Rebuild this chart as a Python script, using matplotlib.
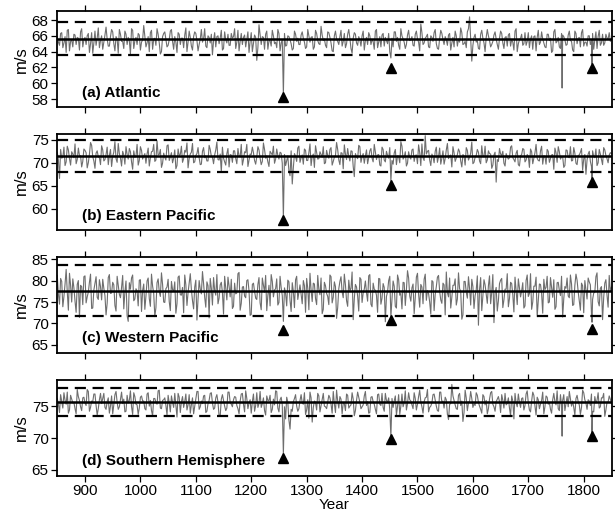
import numpy as np
import matplotlib
matplotlib.use('Agg')
import matplotlib.pyplot as plt

plt.rcParams['font.family'] = ['Liberation Sans', 'DejaVu Sans']

# series read every 2 years: values on 850, 854, ... and on 852, 856, ...
years = np.arange(850, 1851, 4)
mid_years = np.arange(852, 1849, 4)

atlantic = [
    65.9, 64.8, 66.4, 65.1, 63.9, 66.8, 65.3, 64.6, 66.1, 65.8,
    64.2, 66.9, 65.5, 64.9, 66.3, 65.0, 63.8, 66.6, 65.7, 64.5,
    66.0, 65.2, 67.1, 64.7, 65.9, 66.5, 64.1, 65.6, 66.8, 65.3,
    64.4, 66.2, 65.8, 63.7, 66.7, 65.4, 64.9, 66.1, 65.2, 67.3,
    64.6, 65.9, 66.4, 64.3, 65.7, 66.9, 65.1, 64.0, 66.3, 65.5,
    64.8, 66.6, 65.3, 65.9, 63.9, 66.2, 65.7, 64.5, 67.0, 65.2,
    65.8, 64.2, 66.5, 65.4, 64.9, 66.8, 65.6, 64.7, 66.0, 65.1,
    63.6, 66.4, 65.9, 65.0, 66.7, 64.4, 65.5, 66.2, 64.8, 65.7,
    66.9, 65.2, 64.1, 66.3, 65.8, 64.6, 66.5, 65.3, 64.0, 66.1,
    62.9, 67.4, 64.9, 65.8, 66.2, 64.3, 65.4, 66.7, 65.0, 64.5,
    66.3, 65.1, 58.6, 64.7, 66.0, 65.5, 64.2, 66.6, 65.3, 64.9,
    66.1, 65.7, 64.4, 66.8, 65.2, 65.9, 64.6, 66.3, 65.0, 67.2,
    65.4, 64.8, 66.5, 65.8, 64.1, 66.0, 65.6, 64.9, 66.7, 65.3,
    64.5, 66.2, 65.7, 63.8, 66.4, 65.1, 65.9, 64.7, 66.6, 65.4,
    64.9, 66.0, 65.5, 64.3, 66.8, 65.2, 64.6, 66.3, 65.8, 65.0,
    64.0, 65.7, 66.5, 65.3, 64.8, 66.9, 65.6, 64.4, 66.1, 65.4,
    65.9, 64.7, 66.6, 65.2, 67.5, 64.9, 65.7, 66.2, 64.5, 65.8,
    66.4, 65.0, 64.3, 66.7, 65.5, 65.9, 64.8, 66.3, 65.1, 64.6,
    66.0, 65.6, 67.0, 64.9, 65.3, 66.5, 68.4, 62.8, 65.8, 65.2,
    64.4, 66.2, 65.7, 64.0, 66.8, 65.4, 64.9, 66.1, 65.6, 64.3,
    66.6, 65.1, 65.8, 64.7, 66.3, 65.5, 64.2, 66.9, 65.0, 65.7,
    64.8, 66.4, 65.3, 64.5, 66.0, 65.9, 64.1, 66.7, 65.2, 65.6,
    64.6, 66.2, 65.4, 63.9, 66.5, 65.1, 65.8, 64.4, 66.1, 65.5,
    64.9, 66.6, 65.3, 64.0, 66.3, 65.7, 64.6, 66.8, 65.2, 64.7,
    66.0, 65.4, 64.3, 66.5, 65.9, 64.8, 66.2, 65.1, 65.7, 66.4,
    65.5,
]
atlantic_mid = [
    65.2, 66.3, 64.5, 65.9, 66.7, 64.1, 65.5, 66.2, 64.9, 65.7,
    66.5, 64.6, 65.8, 66.0, 63.9, 66.4, 65.1, 64.8, 67.0, 65.4,
    64.3, 66.1, 65.6, 64.7, 66.8, 65.0, 65.9, 63.8, 66.2, 65.3,
    66.6, 64.9, 65.4, 66.9, 64.4, 65.8, 66.3, 64.2, 65.5, 66.0,
    65.1, 64.0, 66.7, 65.6, 64.8, 66.2, 63.7, 65.9, 66.5, 64.6,
    65.5, 66.8, 64.3, 65.2, 66.4, 64.9, 65.7, 66.1, 64.0, 66.6,
    64.7, 65.9, 66.3, 64.1, 65.6, 65.2, 66.9, 64.5, 65.8, 66.2,
    65.4, 64.6, 66.0, 65.7, 64.2, 66.5, 65.1, 64.8, 66.3, 65.9,
    64.4, 66.7, 65.3, 64.9, 66.1, 65.6, 63.9, 66.4, 65.0, 65.8,
    64.5, 66.2, 65.9, 64.3, 66.6, 65.4, 64.7, 66.0, 65.2, 66.8,
    64.1, 65.5, 66.3, 64.8, 65.9, 65.0, 64.4, 66.2, 65.7, 64.9,
    66.5, 65.2, 64.6, 66.0, 65.8, 64.3, 66.7, 65.4, 64.9, 66.1,
    65.6, 64.5, 66.4, 65.1, 64.0, 66.6, 65.3, 65.9, 64.7, 66.3,
    65.0, 66.8, 64.4, 65.7, 66.2, 64.8, 65.5, 66.0, 64.2, 65.8,
    66.4, 64.9, 65.3, 66.6, 64.5, 65.9, 66.1, 64.7, 65.4, 66.3,
    65.0, 64.6, 66.5, 65.8, 64.3, 66.0, 65.2, 64.9, 66.7, 65.5,
    64.8, 66.2, 65.6, 64.1, 66.4, 65.1, 65.9, 64.6, 66.0, 65.3,
    66.8, 64.4, 65.7, 66.3, 64.9, 65.5, 66.1, 64.2, 65.8, 66.6,
    64.7, 65.2, 66.4, 65.0, 64.5, 66.9, 65.6, 64.8, 66.2, 65.4,
    64.3, 66.7, 65.1, 65.8, 66.0, 64.6, 65.3, 66.5, 64.9, 65.7,
    66.3, 64.4, 65.9, 66.1, 64.7, 65.2, 66.6, 64.0, 65.5, 66.2,
    65.0, 64.8, 66.4, 65.6, 64.3, 66.0, 65.8, 64.9, 66.5, 65.1,
    64.5, 66.2, 65.7, 64.1, 66.8, 65.3, 64.6, 66.3, 65.9, 64.8,
    66.1, 65.4, 64.2, 66.6, 65.0, 65.8, 66.4, 64.7, 65.2, 66.0,
    64.9, 66.3, 65.5, 64.4, 66.7, 65.1, 64.8, 66.2, 65.6, 65.3,
]

east_pacific = [
    72.3, 66.6, 71.0, 73.4, 70.2, 72.8, 69.5, 71.9, 74.1, 70.7,
    71.6, 69.1, 73.0, 72.2, 70.0, 74.4, 71.3, 68.8, 72.6, 71.1,
    73.7, 70.4, 71.8, 69.6, 72.9, 71.4, 74.6, 70.1, 72.0, 69.3,
    71.7, 73.5, 70.8, 72.4, 68.6, 71.2, 74.0, 70.5, 72.7, 71.5,
    69.9, 73.2, 71.0, 72.5, 70.3, 74.8, 71.8, 69.0, 72.1, 70.6,
    73.9, 71.3, 70.0, 72.8, 69.4, 71.6, 73.6, 70.9, 72.3, 68.9,
    71.9, 74.2, 70.2, 72.0, 71.1, 69.7, 73.3, 71.5, 70.4, 72.9,
    71.2, 71.7, 74.5, 70.6, 68.0, 71.0, 69.5, 73.1, 71.8, 70.1,
    72.6, 69.8, 71.4, 74.0, 70.7, 72.2, 69.2, 71.9, 73.4, 70.5,
    71.3, 72.8, 69.6, 74.3, 71.0, 70.2, 72.5, 71.7, 69.9, 73.0,
    70.8, 72.1, 58.0, 69.4, 71.5, 67.2, 65.4, 72.0, 70.3, 73.6,
    71.1, 69.7, 72.7, 70.5, 74.1, 71.4, 69.0, 72.3, 70.9, 71.8,
    73.5, 70.0, 71.6, 72.9, 69.5, 71.2, 74.4, 70.6, 72.2, 68.7,
    71.9, 73.1, 70.4, 72.5, 67.0, 71.3, 73.8, 70.1, 72.0, 71.5,
    69.8, 72.6, 71.0, 74.0, 70.7, 71.8, 69.3, 72.9, 70.2, 71.6,
    73.3, 70.5, 72.1, 69.6, 71.4, 74.6, 70.8, 72.4, 69.9, 71.2,
    72.8, 70.3, 71.7, 73.9, 69.4, 71.1, 75.9, 72.5, 70.6, 71.9,
    70.0, 73.4, 71.3, 69.7, 72.6, 70.9, 74.2, 71.5, 69.1, 72.2,
    71.0, 73.0, 70.4, 71.8, 69.5, 72.7, 71.2, 74.5, 70.1, 71.6,
    72.3, 69.8, 71.4, 73.6, 70.6, 72.0, 68.8, 71.7, 65.8, 70.3,
    71.9, 72.5, 69.3, 71.3, 71.1, 73.7, 70.7, 72.1, 69.6, 71.5,
    73.1, 70.2, 71.8, 69.0, 72.4, 71.0, 74.0, 70.5, 72.6, 69.7,
    71.4, 72.9, 70.1, 71.7, 68.6, 72.2, 73.5, 70.8, 71.3, 69.4,
    72.7, 71.1, 70.4, 73.3, 69.9, 71.6, 72.3, 68.4, 71.8, 70.6,
    72.5, 69.2, 71.4, 73.0, 70.0, 71.9, 69.6, 72.8, 70.9, 71.7,
    72.0,
]
east_pacific_mid = [
    70.6, 72.9, 71.2, 69.4, 73.6, 70.9, 72.4, 71.1, 69.8, 73.2,
    71.5, 70.3, 72.7, 68.9, 71.9, 73.8, 70.4, 72.1, 71.3, 69.6,
    72.8, 70.7, 73.4, 71.6, 69.2, 72.3, 70.9, 74.2, 71.0, 72.5,
    69.7, 71.8, 73.1, 70.2, 72.6, 71.4, 69.5, 73.5, 70.8, 72.0,
    71.9, 69.3, 72.4, 74.0, 70.6, 71.7, 72.9, 69.9, 71.2, 73.7,
    70.5, 72.2, 71.0, 68.7, 73.0, 71.8, 70.1, 72.7, 74.3, 70.9,
    72.3, 70.0, 71.6, 73.3, 69.6, 72.5, 71.1, 70.4, 73.8, 71.4,
    69.8, 72.8, 70.7, 71.9, 73.4, 70.2, 72.0, 69.1, 71.7, 72.6,
    70.9, 73.1, 71.3, 69.5, 72.4, 74.0, 70.6, 71.8, 72.2, 69.7,
    73.5, 71.0, 70.3, 72.9, 71.5, 69.2, 72.1, 73.6, 70.8, 71.6,
    72.3, 69.9, 71.8, 70.4, 68.2, 72.6, 69.0, 71.4, 73.2, 70.1,
    71.7, 73.0, 70.5, 72.2, 69.4, 71.9, 73.7, 70.8, 72.4, 71.2,
    69.8, 72.7, 71.0, 73.3, 70.3, 71.6, 72.9, 69.6, 72.1, 73.9,
    70.7, 71.4, 72.6, 69.2, 72.0, 70.9, 73.5, 71.3, 69.9, 72.8,
    71.1, 73.1, 70.2, 72.3, 71.7, 69.5, 73.4, 70.6, 72.5, 71.0,
    72.0, 69.7, 72.9, 71.5, 70.0, 73.6, 71.2, 69.3, 72.4, 70.8,
    73.0, 71.6, 69.8, 72.2, 74.1, 70.5, 71.9, 72.7, 69.4, 71.3,
    72.5, 70.1, 73.2, 71.0, 69.7, 72.8, 70.9, 71.7, 73.5, 70.3,
    71.8, 72.4, 69.1, 71.5, 73.3, 70.6, 72.1, 69.8, 71.2, 72.9,
    70.4, 73.7, 71.3, 70.0, 72.6, 71.9, 69.5, 72.3, 70.7, 73.1,
    71.6, 69.9, 72.0, 70.8, 73.4, 71.1, 70.2, 72.7, 69.3, 71.8,
    72.9, 70.6, 71.4, 73.0, 69.8, 72.2, 71.0, 70.4, 73.6, 71.5,
    69.7, 72.5, 70.9, 71.8, 73.2, 70.1, 72.4, 71.3, 69.0, 72.8,
    71.2, 73.5, 70.5, 72.1, 69.6, 71.7, 73.1, 70.8, 67.5, 71.9,
    70.3, 72.6, 71.1, 69.4, 72.9, 70.7, 73.3, 71.6, 70.0, 72.2,
]

west_pacific = [
    81.2, 74.5, 79.8, 76.3, 82.6, 73.1, 78.9, 80.4, 75.2, 79.1,
    71.4, 78.6, 80.9, 74.8, 77.3, 81.5, 73.6, 79.4, 76.1, 80.2,
    75.5, 78.2, 72.0, 80.7, 77.0, 79.6, 74.2, 81.0, 76.8, 78.4,
    73.4, 79.9, 70.5, 78.0, 81.3, 75.7, 77.6, 80.1, 72.8, 79.2,
    76.4, 80.6, 74.0, 78.7, 71.6, 79.5, 77.4, 81.8, 75.0, 78.1,
    80.3, 73.0, 77.9, 79.7, 74.6, 81.1, 76.6, 72.5, 79.0, 77.2,
    81.6, 75.3, 78.5, 70.8, 80.0, 76.9, 79.3, 73.8, 78.8, 80.5,
    74.3, 77.7, 81.4, 75.9, 79.6, 72.2, 78.3, 80.8, 76.2, 73.5,
    79.4, 77.1, 81.9, 74.7, 78.6, 76.0, 80.2, 71.9, 79.1, 77.5,
    75.6, 80.7, 73.2, 78.9, 81.2, 76.5, 74.1, 79.8, 77.8, 80.4,
    74.9, 78.4, 70.5, 77.0, 80.1, 75.4, 79.5, 73.7, 81.0, 77.3,
    76.7, 80.0, 72.6, 78.2, 81.7, 75.1, 79.2, 74.4, 77.9, 80.6,
    73.3, 78.8, 76.3, 81.3, 74.8, 79.7, 71.2, 78.1, 80.9, 76.0,
    79.0, 74.0, 77.6, 82.0, 75.8, 78.5, 72.9, 80.3, 77.1, 79.9,
    75.2, 81.4, 73.9, 78.0, 76.6, 80.5, 74.5, 79.3, 70.4, 77.4,
    81.0, 75.6, 78.7, 73.6, 80.2, 77.0, 79.6, 74.2, 82.3, 76.4,
    78.3, 72.3, 80.8, 76.8, 79.1, 74.6, 81.5, 77.7, 75.0, 80.0,
    73.0, 78.6, 81.2, 75.5, 79.4, 72.0, 77.2, 80.6, 76.1, 78.9,
    74.3, 81.8, 77.5, 72.0, 79.8, 75.9, 78.1, 80.3, 73.5, 77.8,
    69.6, 80.7, 76.4, 79.0, 74.7, 81.1, 77.3, 70.2, 78.4, 75.3,
    80.1, 73.7, 78.0, 81.6, 75.8, 79.3, 72.7, 77.6, 80.4, 76.2,
    79.5, 74.1, 81.3, 77.0, 73.3, 78.7, 80.8, 75.4, 79.1, 72.4,
    77.9, 81.0, 75.0, 78.3, 80.2, 73.9, 79.6, 76.5, 71.5, 78.6,
    80.6, 76.0, 79.2, 74.4, 81.5, 77.4, 73.1, 78.8, 80.0, 75.7,
    79.7, 72.2, 77.1, 80.9, 75.1, 78.2, 70.9, 79.4, 76.6, 81.2,
    78.5,
]
west_pacific_mid = [
    76.8, 80.5, 73.9, 79.2, 77.4, 81.7, 75.0, 78.3, 72.6, 80.0,
    78.9, 74.4, 81.1, 76.2, 79.6, 73.5, 77.8, 80.9, 75.6, 78.6,
    80.3, 76.5, 74.7, 81.4, 77.1, 79.0, 72.9, 78.8, 76.0, 81.2,
    77.3, 71.8, 79.5, 80.6, 75.3, 78.1, 74.1, 80.2, 77.7, 73.3,
    79.9, 75.8, 81.5, 77.0, 73.7, 80.4, 76.3, 79.1, 74.9, 78.5,
    75.1, 79.8, 77.5, 72.4, 80.8, 76.7, 78.4, 81.3, 74.2, 79.3,
    77.9, 73.4, 80.1, 75.7, 78.0, 82.1, 76.1, 79.7, 71.3, 78.2,
    80.7, 76.6, 74.6, 79.0, 77.2, 81.0, 75.5, 78.7, 80.3, 74.0,
    76.9, 81.6, 73.1, 78.5, 76.4, 80.0, 77.6, 72.1, 79.4, 75.9,
    79.1, 74.8, 80.6, 77.3, 73.0, 78.9, 81.4, 76.2, 78.1, 74.3,
    81.0, 76.5, 78.3, 74.1, 79.7, 72.8, 77.5, 80.2, 75.6, 79.0,
    74.6, 78.8, 80.5, 73.2, 77.8, 79.4, 75.8, 81.2, 76.7, 72.3,
    79.6, 77.0, 74.4, 80.9, 76.1, 78.6, 73.7, 79.8, 77.4, 81.5,
    75.3, 80.1, 78.2, 70.9, 79.1, 76.4, 80.7, 74.9, 78.0, 77.2,
    81.1, 74.5, 79.4, 77.7, 72.6, 80.4, 75.9, 78.4, 76.3, 80.0,
    77.1, 79.9, 74.0, 81.3, 76.6, 73.4, 79.5, 77.8, 80.6, 75.2,
    79.2, 76.0, 81.7, 73.8, 78.5, 80.3, 75.4, 77.0, 72.2, 79.7,
    76.8, 80.8, 77.5, 74.7, 79.0, 82.0, 76.2, 73.6, 78.9, 80.4,
    75.7, 78.1, 71.0, 79.8, 77.3, 80.9, 74.3, 78.6, 76.5, 81.1,
    77.9, 73.0, 80.2, 76.9, 78.8, 74.6, 81.4, 77.2, 72.9, 79.3,
    80.5, 75.5, 78.0, 73.9, 79.6, 76.7, 80.8, 74.4, 78.3, 77.6,
    73.6, 80.0, 76.3, 81.6, 75.0, 78.7, 71.6, 79.2, 77.0, 80.3,
    78.4, 74.8, 80.7, 76.1, 73.3, 79.5, 77.7, 81.0, 75.8, 78.2,
    76.4, 81.3, 74.2, 78.9, 80.1, 75.2, 79.4, 72.5, 77.9, 80.6,
    79.0, 75.6, 77.3, 81.8, 74.1, 78.6, 76.0, 80.2, 73.8, 77.5,
]

south_hem = [
    76.2, 74.0, 75.8, 77.1, 75.3, 73.9, 76.7, 75.5, 74.6, 77.6,
    75.9, 74.3, 76.4, 75.1, 77.3, 74.8, 75.7, 76.9, 73.6, 76.0,
    75.4, 77.0, 74.5, 76.3, 75.0, 73.8, 76.8, 75.6, 74.9, 77.2,
    76.1, 74.2, 75.5, 77.4, 73.7, 76.5, 75.2, 74.7, 76.6, 75.8,
    74.4, 77.1, 75.9, 73.5, 76.2, 75.3, 77.5, 74.6, 76.0, 75.1,
    76.7, 74.1, 75.6, 77.0, 73.3, 76.4, 75.7, 74.8, 76.9, 75.2,
    73.9, 76.3, 75.0, 77.3, 74.5, 75.8, 76.6, 74.0, 75.4, 77.0,
    75.5, 74.7, 76.8, 73.4, 76.1, 75.9, 74.3, 77.2, 75.6, 74.9,
    76.5, 75.1, 73.8, 76.9, 75.3, 77.4, 74.6, 76.0, 75.7, 74.2,
    77.1, 75.4, 74.8, 76.3, 73.6, 75.9, 76.7, 74.5, 75.2, 77.3,
    74.1, 76.4, 67.5, 73.0, 75.6, 71.4, 74.2, 76.2, 75.0, 74.6,
    76.8, 75.3, 73.7, 76.0, 77.2, 72.5, 75.8, 74.4, 76.6, 75.1,
    77.0, 74.9, 75.6, 76.3, 73.9, 75.4, 77.5, 74.7, 76.1, 75.5,
    74.3, 76.7, 75.0, 77.1, 73.5, 75.9, 76.4, 74.6, 75.2, 77.3,
    75.7, 74.0, 76.5, 75.3, 73.8, 76.9, 75.1, 74.8, 77.0, 75.6,
    74.5, 76.2, 75.8, 73.6, 76.8, 75.0, 74.9, 77.4, 75.4, 76.0,
    75.2, 77.1, 74.4, 76.5, 75.7, 73.9, 76.3, 77.6, 74.8, 75.5,
    76.9, 75.0, 74.2, 77.2, 75.8, 76.4, 73.7, 75.3, 78.4, 75.9,
    74.6, 76.7, 75.1, 72.6, 77.5, 74.3, 75.8, 76.2, 75.4, 77.1,
    75.6, 74.5, 76.8, 75.2, 73.8, 76.1, 77.3, 74.9, 75.7, 76.5,
    74.0, 75.9, 77.0, 75.4, 74.7, 76.6, 73.0, 75.5, 76.9, 74.8,
    76.3, 75.1, 77.4, 74.4, 75.8, 76.7, 73.6, 76.0, 75.3, 77.2,
    74.9, 76.4, 75.6, 73.9, 77.0, 75.2, 74.6, 76.8, 75.9, 74.3,
    76.5, 77.3, 75.0, 74.8, 76.2, 75.7, 73.7, 77.5, 76.0, 74.5,
    75.8, 76.9, 74.1, 75.5, 77.1, 74.9, 76.3, 73.4, 75.6, 76.6,
    75.4,
]
south_hem_mid = [
    75.3, 76.8, 74.7, 75.9, 77.2, 74.4, 76.1, 75.6, 73.8, 76.5,
    74.9, 76.3, 75.5, 77.6, 74.2, 75.8, 76.9, 75.1, 74.6, 77.0,
    76.2, 74.8, 75.7, 73.9, 76.6, 75.2, 77.3, 74.5, 76.0, 75.4,
    74.1, 76.7, 75.9, 74.9, 77.1, 75.3, 73.7, 76.4, 75.8, 74.6,
    76.9, 75.0, 74.3, 76.2, 75.6, 77.4, 74.7, 75.9, 76.3, 73.6,
    75.5, 76.6, 74.8, 75.1, 77.0, 74.0, 76.5, 75.7, 74.4, 76.8,
    75.2, 73.8, 76.1, 77.3, 74.9, 75.4, 76.7, 74.2, 75.9, 77.1,
    74.5, 76.3, 75.6, 73.5, 76.8, 75.0, 74.7, 77.2, 75.3, 76.0,
    76.4, 74.6, 75.8, 77.0, 74.1, 76.2, 75.5, 73.9, 76.9, 75.1,
    74.8, 77.3, 75.4, 74.3, 76.6, 75.9, 74.0, 76.1, 77.4, 74.7,
    76.0, 75.2, 74.9, 76.4, 72.8, 74.5, 75.7, 76.8, 74.2, 75.9,
    75.5, 77.1, 74.4, 73.1, 76.3, 74.8, 75.6, 77.0, 74.1, 76.2,
    75.0, 74.6, 76.7, 75.3, 77.3, 74.0, 75.8, 76.5, 73.8, 75.4,
    76.9, 74.7, 75.2, 76.1, 74.3, 77.2, 75.6, 74.9, 76.6, 75.1,
    73.9, 76.4, 75.7, 74.5, 76.8, 75.3, 77.0, 74.2, 75.9, 76.3,
    75.4, 74.8, 76.6, 75.0, 73.7, 76.9, 75.5, 74.4, 77.1, 75.8,
    74.6, 76.2, 75.3, 77.5, 74.9, 75.7, 76.4, 74.1, 75.0, 76.8,
    75.9, 74.3, 77.2, 75.6, 74.7, 76.0, 72.9, 75.4, 76.6, 75.2,
    74.5, 77.0, 75.8, 74.0, 76.3, 75.5, 77.3, 74.8, 75.1, 76.7,
    75.0, 73.9, 76.5, 75.9, 74.6, 77.1, 75.3, 74.2, 76.1, 75.7,
    76.8, 74.7, 75.2, 76.3, 73.5, 75.8, 77.0, 74.9, 75.6, 76.2,
    74.4, 76.9, 75.5, 74.1, 77.2, 75.0, 76.4, 74.6, 75.9, 73.8,
    76.6, 75.3, 74.5, 76.0, 75.7, 77.4, 74.3, 75.1, 76.8, 75.4,
    74.9, 76.2, 75.8, 73.6, 76.7, 75.2, 74.8, 77.1, 75.5, 76.0,
    75.1, 74.2, 76.5, 75.9, 74.7, 76.3, 77.0, 74.4, 75.6, 76.1,
]

# single-year volcanic dips
events = [
    {1452: 63.2, 1761: 59.4, 1815: 62.4},
    {1452: 66.0, 1815: 64.8},
    {1452: 71.5, 1815: 70.3},
    {1452: 70.2, 1761: 70.3, 1815: 70.8},
]

volc_years = [1258, 1452, 1815]
volc_marks = [
    [58.3, 61.9, 61.9],
    [57.6, 65.1, 65.8],
    [68.4, 70.8, 68.8],
    [66.9, 69.8, 70.3],
]

means = [65.6, 71.5, 77.6, 75.7]
upper = [67.7, 75.0, 83.6, 77.9]
lower = [63.6, 68.1, 71.7, 73.4]

titles = ['(a) Atlantic', '(b) Eastern Pacific', '(c) Western Pacific',
          '(d) Southern Hemisphere']
ylims = [(57.0, 69.1), (55.4, 76.2), (63.2, 85.5), (64.1, 79.1)]
yticks = [[58, 60, 62, 64, 66, 68], [60, 65, 70, 75],
          [65, 70, 75, 80, 85], [65, 70, 75]]

series = [(atlantic, atlantic_mid), (east_pacific, east_pacific_mid),
          (west_pacific, west_pacific_mid), (south_hem, south_hem_mid)]

fig = plt.figure(figsize=(6.15, 5.16), dpi=100)
bottoms = [0.7926, 0.5543, 0.3165, 0.0781]

for i in range(4):
    ax = fig.add_axes([0.0927, bottoms[i], 0.9024, 0.1855])
    x = np.concatenate([years, mid_years])
    y = np.concatenate([series[i][0], series[i][1]])
    order = np.argsort(x)
    x = list(x[order])
    y = list(y[order])
    for yr, v in events[i].items():
        if yr in x:
            y[x.index(yr)] = v
        else:
            k = int(np.searchsorted(x, yr))
            x.insert(k, yr)
            y.insert(k, v)
    ax.plot(x, y, color='#6e6e6e', lw=0.8)
    ax.axhline(means[i], color='black', lw=1.8)
    ax.axhline(upper[i], color='black', lw=1.6, ls=(0, (5, 3)))
    ax.axhline(lower[i], color='black', lw=1.6, ls=(0, (5, 3)))
    ax.plot(volc_years, volc_marks[i], '^', color='black', ms=7)
    ax.set_xlim(849.5, 1851)
    ax.set_ylim(*ylims[i])
    ax.set_yticks(yticks[i])
    ax.set_xticks(range(900, 1801, 100))
    ax.tick_params(direction='out', top=True, right=True, labelsize=11,
                   length=4, width=0.9, pad=2)
    if i < 3:
        ax.tick_params(labelbottom=False)
    for s in ax.spines.values():
        s.set_linewidth(1.3)
    ax.set_ylabel('m/s', fontsize=12, labelpad=2)
    ax.text(0.045, 0.15, titles[i], transform=ax.transAxes, fontsize=11,
            fontweight='bold', va='center', ha='left')

ax.set_xlabel('Year', fontsize=11, labelpad=0)

plt.savefig('out.png', dpi=100)
plt.close()
